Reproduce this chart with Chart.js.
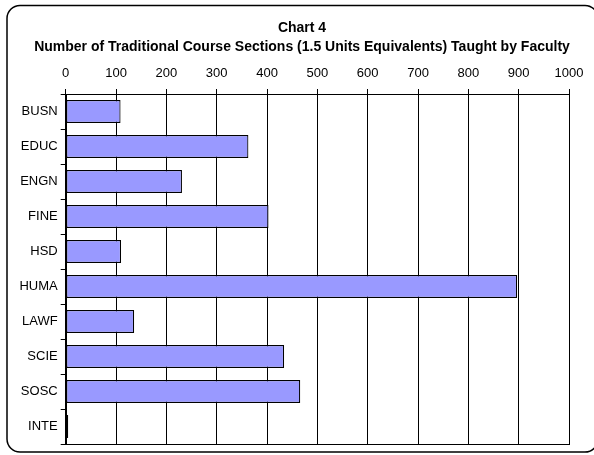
<!DOCTYPE html>
<html>
<head>
<meta charset="utf-8">
<script src="https://cdn.jsdelivr.net/npm/chart.js@4/dist/chart.umd.min.js"></script>
<style>
  html,body{margin:0;padding:0;background:#fff;}
  #wrap{width:594px;height:455px;}
</style>
</head>
<body>
<div id="wrap"><canvas id="chart" width="594" height="455"></canvas></div>
<script>
const faculties = ['BUSN','EDUC','ENGN','FINE','HSD','HUMA','LAWF','SCIE','SOSC','INTE'];
const sections = [109, 363, 231, 403, 110, 897, 136, 434, 466, 5];
const titleLines = ['Chart 4', 'Number of Traditional Course Sections (1.5 Units Equivalents) Taught by Faculty'];

const FONT = 'Arial, "Liberation Sans", sans-serif';

// title (centred on the frame, not the plot), outer rounded frame, plot box
const frame = {
  id:'frame',
  afterDraw(chart){
    const c = chart.ctx, a = chart.chartArea;
    c.save();
    c.fillStyle = '#000';
    c.textAlign = 'center';
    c.textBaseline = 'middle';
    c.font = 'bold 14px ' + FONT;
    c.fillText(titleLines[0], 302, 28.5);
    c.fillText(titleLines[1], 302, 47.5);
    c.strokeStyle = '#000';
    c.lineWidth = 1;
    c.strokeRect(Math.round(a.left)+0.5, Math.round(a.top)+0.5, Math.round(a.right-a.left), Math.round(a.bottom-a.top));
    c.lineWidth = 1.5;
    c.beginPath();
    c.roundRect(7, 5.5, 591, 446.5, 13);
    c.stroke();
    c.restore();
  }
};

new Chart(document.getElementById('chart'), {
  type:'bar',
  data:{
    labels:faculties,
    datasets:[{
      data:sections,
      backgroundColor:'#9999ff',
      borderColor:'#000',
      borderWidth:1.2,
      borderSkipped:false,
      barPercentage:0.66,
      categoryPercentage:1
    }]
  },
  options:{
    indexAxis:'y',
    responsive:false,
    animation:false,
    layout:{padding:{left:0, right:25, top:0, bottom:11}},
    plugins:{
      legend:{display:false},
      tooltip:{enabled:false},
      title:{display:false}
    },
    scales:{
      x:{
        position:'top',
        min:0, max:1000,
        ticks:{stepSize:100, color:'#000', font:{family:FONT, size:13}, padding:8, maxRotation:0,
               callback:v=>String(v)},
        grid:{color:'#000', lineWidth:1, tickLength:5, tickColor:'#000'},
        border:{color:'#000', width:1},
        afterFit(s){ s.height = 94; }
      },
      y:{
        ticks:{color:'#000', font:{family:FONT, size:13}, padding:3},
        grid:{drawOnChartArea:false, offset:true, tickLength:5, tickColor:'#000', color:'#000'},
        border:{color:'#000', width:1},
        afterFit(s){ s.width = 65.7; }
      }
    }
  },
  plugins:[frame]
});
</script>
</body>
</html>
